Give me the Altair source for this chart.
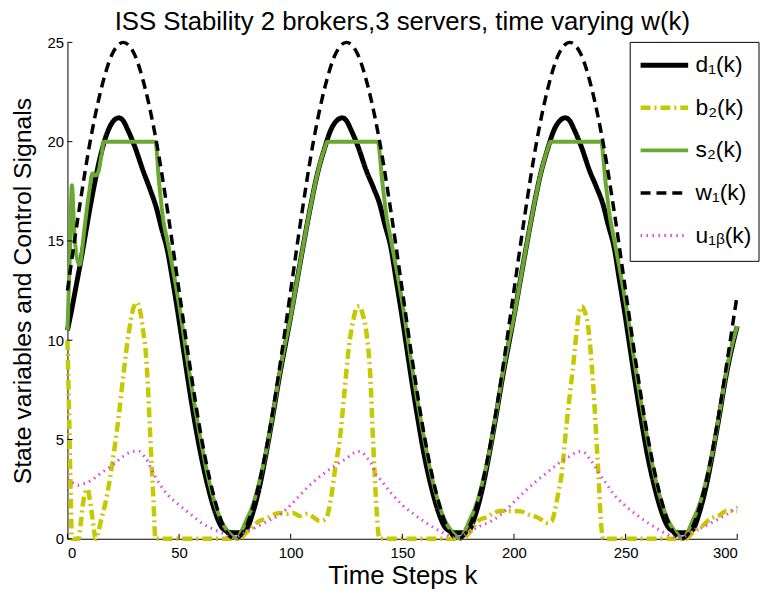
import altair as alt
import pandas as pd

# ---- data ----
names = ["d\u2081(k)", "b\u2082(k)", "s\u2082(k)", "w\u2081(k)", "u\u2081\u1d66(k)"]
colors = ["#000000", "#c8c800", "#6aa832", "#000000", "#e040e0"]

w_k = [0, 5, 10, 15, 20, 25, 30, 35, 40, 45, 50, 55, 60, 65, 70, 75, 80, 85, 90, 95,
       100, 105, 110, 115, 120, 125, 130, 135, 140, 145, 150, 155, 160, 165, 170, 175, 180, 185, 190, 195,
       200, 205, 210, 215, 220, 225, 230, 235, 240, 245, 250, 255, 260, 265, 270, 275, 280, 285, 290, 295, 300]
w_v = [12.5, 16.4, 19.9, 22.6, 24.4, 25.0, 24.4, 22.6, 19.9, 16.4, 12.5, 8.6, 5.1, 2.4, 0.6, 0.0, 0.6, 2.4, 5.1, 8.6,
       12.5, 16.4, 19.9, 22.6, 24.4, 25.0, 24.4, 22.6, 19.9, 16.4, 12.5, 8.6, 5.1, 2.4, 0.6, 0.0, 0.6, 2.4, 5.1, 8.6,
       12.5, 16.4, 19.9, 22.6, 24.4, 25.0, 24.4, 22.6, 19.9, 16.4, 12.5, 8.6, 5.1, 2.4, 0.6, 0.0, 0.6, 2.4, 5.1, 8.6, 12.3]

d_k = [0, 2, 4, 6, 8, 10, 12, 14, 16, 18, 20, 23, 25, 27, 30, 34, 37, 40, 42, 45, 47, 50, 52, 54, 57, 60, 63, 66, 69, 71, 74, 77,
       80, 83, 86, 89, 92, 95, 98, 100, 103, 106, 109, 112, 115, 118, 121, 123, 125, 127, 130, 134, 137, 140, 142, 145, 147,
       150, 152, 154, 157, 160, 163, 166, 169, 171, 174, 177,
       180, 183, 186, 189, 192, 195, 198, 200, 203, 206, 209, 212, 215, 218, 221, 223, 225, 227, 230, 234, 237, 240, 242, 245, 247,
       250, 252, 254, 257, 260, 263, 266, 269, 271, 274, 277,
       280, 283, 286, 289, 292, 295, 298, 300]
d_v = [10.5, 11.6, 12.8, 14.0, 15.3, 16.6, 17.8, 18.9, 19.8, 20.5, 20.95, 21.2, 21.05, 20.6, 19.8, 18.5, 17.6, 16.6, 15.7, 14.4, 13.1,
       11.0, 9.5, 8.0, 5.9, 4.1, 2.6, 1.4, 0.6, 0.4, 0.3, 0.3,
       0.45, 1.3, 2.6, 4.3, 6.2, 8.2, 10.0, 11.2, 13.1, 15.0, 16.8, 18.4, 19.6, 20.6, 21.1, 21.2, 21.05, 20.6, 19.8, 18.5, 17.7, 16.8, 15.9, 14.6, 13.2,
       11.1, 9.6, 8.1, 6.0, 4.1, 2.6, 1.4, 0.6, 0.4, 0.3, 0.3,
       0.45, 1.3, 2.6, 4.3, 6.2, 8.2, 10.0, 11.2, 13.1, 15.0, 16.8, 18.4, 19.6, 20.6, 21.1, 21.2, 21.05, 20.6, 19.8, 18.5, 17.7, 16.8, 15.9, 14.6, 13.2,
       11.1, 9.6, 8.1, 6.0, 4.1, 2.6, 1.4, 0.6, 0.4, 0.3, 0.3,
       0.45, 1.3, 2.6, 4.3, 6.2, 8.2, 9.8, 10.7]

s_k = [0, 1, 2, 3, 4, 5.5, 6.5, 7.5, 9.8, 11.2, 12.7, 13.9, 15.2, 16.4, 39.4, 41, 43, 45, 48, 50, 54, 57, 60, 63, 66, 69, 72, 75, 76, 78,
       80, 83, 86, 89, 92, 95, 98, 100, 103, 106, 109, 112, 115, 116.5, 139, 141, 143, 145, 148, 150, 154, 157, 160, 163, 166, 169, 172, 175, 176, 178,
       180, 183, 186, 189, 192, 195, 198, 200, 203, 206, 209, 212, 215, 216.5, 239, 241, 243, 245, 248, 250, 254, 257, 260, 263, 266, 269, 272, 275, 276, 278,
       280, 283, 286, 289, 292, 295, 298, 300]
s_v = [10.5, 14.0, 17.8, 15.6, 14.3, 13.8, 14.5, 15.5, 17.5, 18.4, 18.3, 18.5, 19.3, 20.0, 20.0, 18.0, 16.0, 14.9, 13.1, 11.8, 8.8, 6.7, 4.8, 3.1, 1.8, 0.9, 0.35, 0.05, 0.0, 0.4,
       0.9, 1.7, 2.9, 4.4, 6.3, 8.3, 10.1, 11.2, 13.1, 15.0, 16.8, 18.4, 19.6, 20.0, 20.0, 18.0, 16.2, 15.0, 13.2, 11.9, 8.9, 6.8, 4.9, 3.2, 1.9, 0.95, 0.4, 0.05, 0.0, 0.4,
       0.9, 1.7, 2.9, 4.4, 6.3, 8.3, 10.1, 11.2, 13.1, 15.0, 16.8, 18.4, 19.6, 20.0, 20.0, 18.0, 16.2, 15.0, 13.2, 11.9, 8.9, 6.8, 4.9, 3.2, 1.9, 0.95, 0.4, 0.05, 0.0, 0.4,
       0.9, 1.7, 2.9, 4.4, 6.3, 8.3, 9.9, 10.7]

b_k = [0, 0.8, 1.5, 2, 5, 6, 7, 9, 10, 11.2, 12.7, 13.5, 15, 17, 19, 21, 23, 25, 27.5, 29.5, 31, 32.5, 34, 35, 36, 37, 38.5, 39.4,
       77, 80, 83, 86, 89, 92, 95, 98, 101, 104, 107, 110, 113, 115, 116.5, 118, 120, 122, 124, 126, 128, 130, 131, 132, 134, 135.5, 137, 138.5, 139.7,
       177, 180, 184, 188, 191, 194, 197, 200, 203, 207, 211, 215, 217, 218.3, 220, 221.3, 223.5, 226.5, 229.4, 230.5, 231.5, 233.2, 235.4, 237.6, 239.3, 240,
       277, 280, 283.4, 288, 292.3, 295, 300]
b_v = [10.0, 6.0, 2.0, 0.0, 0.0, 0.8, 1.8, 2.5, 2.0, 1.05, 0.0, 0.2, 0.9, 1.8, 3.0, 4.5, 6.2, 8.2, 10.4, 11.6, 11.9, 11.5, 10.4, 9.5, 7.8, 5.4, 2.0, 0.0,
       0.0, 0.3, 0.6, 0.9, 1.0, 1.2, 1.3, 1.25, 1.3, 1.15, 1.25, 1.1, 0.9, 0.95, 1.2, 2.0, 3.6, 5.0, 7.3, 9.6, 11.0, 11.7, 11.7, 11.4, 10.3, 8.5, 4.7, 1.4, 0.0,
       0.0, 0.3, 0.9, 1.1, 1.3, 1.4, 1.4, 1.4, 1.38, 1.2, 1.05, 0.8, 0.9, 1.4, 2.4, 3.2, 5.7, 8.7, 11.5, 11.7, 11.5, 10.7, 7.9, 3.7, 0.4, 0.0,
       0.0, 0.3, 0.55, 1.0, 1.2, 1.4, 1.4]

u_k = [0, 2, 5, 8, 10, 15, 20, 25, 28, 30, 32, 34, 36, 38, 40, 45, 50, 55, 60, 65, 70, 74, 77,
       80, 85, 90, 95, 100, 105, 110, 115, 120, 125, 128, 130, 132, 134, 136, 138.5, 140, 145, 150, 155, 160, 165, 170, 173, 177,
       180, 185, 190, 195, 200, 205, 210, 215, 220, 225, 228, 230, 232, 234, 236, 238, 240, 245, 250, 255, 260, 265, 270, 273, 277,
       280, 285, 290, 295, 300]
u_v = [3.0, 2.85, 2.7, 2.8, 2.9, 3.3, 3.7, 4.15, 4.35, 4.4, 4.4, 4.2, 3.9, 3.4, 3.0, 2.2, 1.7, 1.25, 0.8, 0.5, 0.25, 0.05, 0.15,
       0.35, 0.6, 0.9, 1.2, 1.7, 2.3, 2.85, 3.3, 3.7, 4.05, 4.3, 4.4, 4.35, 4.1, 3.8, 3.2, 3.0, 2.3, 1.7, 1.25, 0.85, 0.5, 0.2, 0.05, 0.15,
       0.35, 0.65, 0.9, 1.3, 1.85, 2.4, 2.9, 3.35, 3.8, 4.15, 4.35, 4.4, 4.3, 4.0, 3.7, 3.3, 3.0, 2.2, 1.65, 1.2, 0.8, 0.45, 0.15, 0.05, 0.15,
       0.4, 0.6, 0.9, 1.2, 1.6]

x_ticks = [0, 50, 100, 150, 200, 250, 300]
y_ticks = [0, 5, 10, 15, 20, 25]

# ---- build table ----
series = [(names[0], d_k, d_v), (names[1], b_k, b_v), (names[2], s_k, s_v),
          (names[3], w_k, w_v), (names[4], u_k, u_v)]
rows = []
for nm, ks, vs in series:
    for k, v in zip(ks, vs):
        rows.append({"k": k, "v": v, "series": nm})
df = pd.DataFrame(rows)

W, H = 676, 501
FONT = "Liberation Sans"

xs = alt.Scale(domain=[0, 300], nice=False, zero=False)
ys = alt.Scale(domain=[0, 25], nice=False)

color = alt.Color("series:N", scale=alt.Scale(domain=names, range=colors),
                  legend=alt.Legend(title=None, orient="none", legendX=572, legendY=0,
                                    symbolType="stroke", symbolSize=2304, labelFontSize=23,
                                    labelFont=FONT, labelColor="black",
                                    padding=4, rowPadding=5, clipHeight=38,
                                    labelOffset=5, labelLimit=200))
dash = alt.StrokeDash("series:N", scale=alt.Scale(domain=names,
                      range=[[1, 0], [10, 4, 2, 4], [1, 0], [10, 6], [1.5, 4.5]]), legend=alt.Legend(title=None))
sw = alt.StrokeWidth("series:N", scale=alt.Scale(domain=names, range=[5, 3, 3, 3, 1.8]),
                     legend=alt.Legend(title=None))

# legend frame (drawn as a plain rectangle behind the legend entries)
frame = alt.Chart(pd.DataFrame({"f": [0]})).mark_rect(
    fill="white", stroke="black", strokeWidth=1).encode(
    x=alt.value(568), x2=alt.value(698), y=alt.value(0), y2=alt.value(221))

layers = []
for nm in names:
    layers.append(
        alt.Chart(df).transform_filter(alt.datum.series == nm)
        .mark_line(interpolate="monotone", strokeCap="butt")
        .encode(
            x=alt.X("k:Q", scale=xs,
                    axis=alt.Axis(values=x_ticks, title="Time Steps k", grid=False, ticks=False,
                                  labelPadding=7, titlePadding=2, titleFontSize=26)),
            y=alt.Y("v:Q", scale=ys,
                    axis=alt.Axis(values=y_ticks, title="State variables and Control Signals", grid=False,
                                  ticks=False, labelPadding=4, titlePadding=12)),
            color=color, strokeDash=dash, strokeWidth=sw,
            order=alt.Order("k:Q"),
        )
    )

xt = pd.DataFrame({"t": x_ticks})
yt = pd.DataFrame({"t": y_ticks})
xtick_layer = alt.Chart(xt).mark_rule(color="black", strokeWidth=1).encode(
    x=alt.X("t:Q", scale=xs), y=alt.value(H), y2=alt.value(H - 5))
ytick_layer = alt.Chart(yt).mark_rule(color="black", strokeWidth=1).encode(
    y=alt.Y("t:Q", scale=ys), x=alt.value(0), x2=alt.value(5))

chart = alt.layer(*layers, xtick_layer, ytick_layer, frame).properties(
    width=W, height=H,
    title=alt.Title("ISS Stability 2 brokers,3 servers, time varying w(k)", fontSize=26,
                    font=FONT, fontWeight="normal", color="black", offset=0),
    autosize=alt.AutoSizeParams(type="none"),
    padding={"left": 60, "top": 32, "right": 23, "bottom": 48},
).configure_view(stroke=None).configure_axis(
    domainColor="black", labelColor="black", labelFont=FONT, labelFontSize=15,
    titleFont=FONT, titleFontSize=25, titleFontWeight="normal", titleColor="black",
)

chart.save("out.html", embed_options={"renderer": "svg", "actions": False})
